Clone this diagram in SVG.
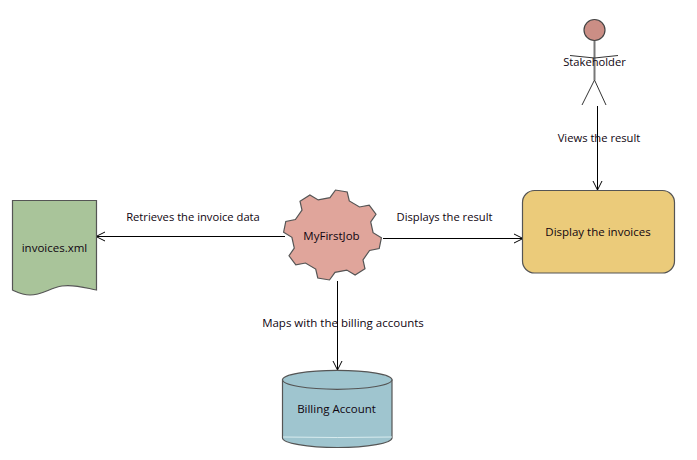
<svg xmlns="http://www.w3.org/2000/svg" width="697" height="460" viewBox="0 0 697 460">
<style>
text{font-family:"Open Sans","Noto Sans","DejaVu Sans",sans-serif;font-size:11.2px;fill:#100510;text-anchor:middle;dominant-baseline:central}
.w{font-size:11.5px}
.s{stroke:#555;stroke-width:1.2}
.c{stroke:#000;stroke-width:1;fill:none;marker-end:url(#a)}
</style>
<defs>
<marker id="a" markerUnits="userSpaceOnUse" markerWidth="12" markerHeight="12" refX="10" refY="5" orient="auto" overflow="visible">
<path d="M1 0.5L10 5L1 9.500" fill="none" stroke="#000"/>
</marker>
</defs>
<rect width="697" height="460" fill="#fff"/>
<g id="connectors">
<path class="c" d="M597.500 106V190"/>
<path class="c" d="M383 238.500H523"/>
<path class="c" d="M285 236.500H96"/>
<path class="c" d="M337.500 281V370"/>
</g>
<g id="stakeholder">
<circle cx="594.500" cy="30" r="10.500" fill="#CB8E85" stroke="#444" stroke-width="1.200"/>
<path d="M594.500 41V80" stroke="#777" stroke-width="2" fill="none"/>
<path d="M570 55.500L594.500 58L618 55.500M594.500 80L582 105M594.500 80L606 105" stroke="#333" stroke-width="1" fill="none"/>
<text x="594.500" y="61.500">Stakeholder</text>
</g>
<g id="display">
<rect x="522.500" y="190.500" width="152" height="82.500" rx="12" ry="12" fill="#EBCB7A" class="s"/>
<text class="w" x="598" y="231">Display the invoices</text>
</g>
<g id="job">
<polygon transform="translate(332.500 235) scale(1 .92)" fill="#E0A59B" class="s" points="-2.500,-40.600 3,-48.900 14.700,-46.700 16.800,-37.100 27,-30.500 36.700,-32.500 43.500,-22.600 38.200,-14.300 40.600,-2.500 48.900,3 46.700,14.700 37.100,16.800 30.500,27 32.500,36.700 22.600,43.500 14.300,38.200 2.500,40.600 -3,48.900 -14.700,46.700 -16.800,37.100 -27,30.500 -36.700,32.500 -43.500,22.600 -38.200,14.300 -40.600,2.500 -48.900,-3 -46.700,-14.700 -37.100,-16.800 -30.500,-27 -32.500,-36.700 -22.600,-43.500 -14.300,-38.200"/>
<text class="w" x="331.500" y="235">MyFirstJob</text>
</g>
<g id="invoices">
<path d="M12.500 200.500H96.500V290C86 288 74 284 62 286C50 288 42 295 30 295C22 295 17 292 12.500 290Z" fill="#A9C49A" class="s"/>
<text class="w" x="54.500" y="247">invoices.xml</text>
</g>
<g id="billing">
<path d="M282.500 380V438C282.500 443 307 447.500 337.500 447.500S392 443 392 438V380Z" fill="#9FC5CF" class="s"/>
<path d="M283 437Q337 438 392 437" stroke="#D8ECEF" fill="none"/>
<ellipse cx="337.250" cy="379.800" rx="54.750" ry="9.500" fill="#9FC5CF" class="s"/>
<text class="w" x="336.500" y="408">Billing Account</text>
</g>
<g id="labels">
<text x="599" y="137">Views the result</text>
<text x="444.500" y="216">Displays the result</text>
<text x="193" y="216">Retrieves the invoice data</text>
<text class="w" x="343" y="322">Maps with the billing accounts</text>
</g>
</svg>
